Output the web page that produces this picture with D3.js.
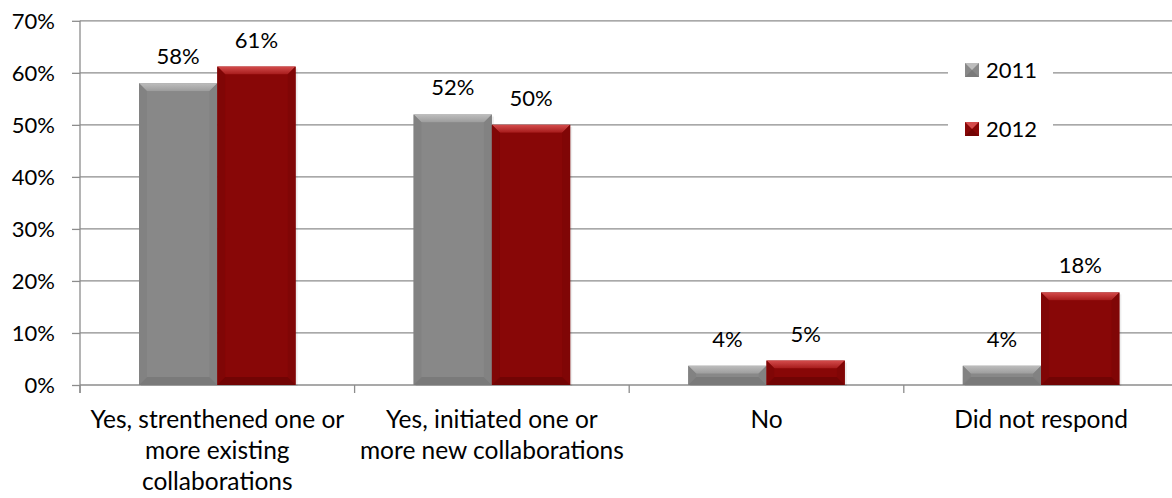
<!DOCTYPE html>
<html><head><meta charset="utf-8">
<script src="https://cdn.jsdelivr.net/npm/d3@7"></script>
<style>html,body{margin:0;padding:0;background:#fff;}svg{display:block;font-family:Lato,"Open Sans",sans-serif;}</style>
</head><body><svg id="c" width="1172" height="498"></svg>
<script>
const categories = [
  ["Yes, strenthened one or","more existing","collaborations"],
  ["Yes, initiated one or","more new collaborations"],
  ["No"],
  ["Did not respond"]
];
const seriesNames = ["2011","2012"];
const values2011 = [58, 52, 3.7, 3.7];
const values2012 = [61.2, 50, 4.7, 17.8];
const labels2011 = ["58%","52%","4%","4%"];
const labels2012 = ["61%","50%","5%","18%"];
const yTicks = [0,10,20,30,40,50,60,70];

(function(){
const colors = {"2011":{base:"#888888",light:"#bdbdbd",mid:"#9c9c9c",dark:"#7a7a7a",side:"#828282"},
                "2012":{base:"#880707",light:"#d44c4c",mid:"#a51a1a",dark:"#720404",side:"#800606"}};

const svg = d3.select("#c");
const pL = 80, pR = 1178.4, pT = 20.8, pB = 385;
const x = d3.scaleBand().domain(d3.range(categories.length)).range([pL,pR]).padding(0);
const xs = d3.scaleBand().domain(seriesNames).range([0,x.bandwidth()]).paddingInner(0).paddingOuter(0.754);
const y = d3.scaleLinear().domain([0,70]).range([pB, pT]);

const defs = svg.append("defs");
seriesNames.forEach(s=>{
  const c = colors[s];
  const g = defs.append("linearGradient").attr("id","top"+s).attr("x1",0).attr("y1",0).attr("x2",0).attr("y2",1);
  g.append("stop").attr("offset","0%").attr("stop-color",c.light);
  g.append("stop").attr("offset","100%").attr("stop-color",c.mid);
});

svg.append("g").selectAll("line").data(yTicks.filter(t=>t>0)).join("line")
  .attr("x1",pL).attr("x2",1172).attr("y1",d=>y(d)).attr("y2",d=>y(d))
  .attr("stroke","#8c8c8c").attr("stroke-width",1.3);

const yAxis = d3.axisLeft(y).tickValues(yTicks).tickSize(8).tickFormat(d=>d+"%");
const ya = svg.append("g").attr("transform",`translate(${pL},0)`).call(yAxis);
ya.select(".domain").attr("stroke","#8c8c8c").attr("stroke-width",1.3).attr("d",`M0,${pT}V${pB+8}`);
ya.selectAll(".tick line").attr("stroke","#8c8c8c").attr("stroke-width",1.3);
ya.selectAll(".tick text").attr("x",-25).attr("dy","0.36em").attr("font-size",22).attr("fill","#000").attr("font-family","Lato");

svg.append("line").attr("x1",pL).attr("x2",1172).attr("y1",pB).attr("y2",pB).attr("stroke","#8c8c8c").attr("stroke-width",1.3);
const bounds = d3.range(categories.length+1).map(i=> i<categories.length ? x(i) : pR);
svg.append("g").selectAll("line").data(bounds).join("line")
  .attr("x1",d=>d).attr("x2",d=>d).attr("y1",pB).attr("y2",pB+8)
  .attr("stroke","#8c8c8c").attr("stroke-width",1.3);

const cl = svg.append("g").selectAll("text").data(categories).join("text")
  .attr("x",(d,i)=>x(i)+x.bandwidth()/2).attr("y",428).attr("text-anchor","middle")
  .attr("font-size",24.5).attr("fill","#000");
cl.selectAll("tspan").data(d=>d).join("tspan")
  .attr("x",function(){return this.parentNode.getAttribute("x");})
  .attr("dy",(d,i)=>i===0?0:31).text(d=>d);

const rows = [];
categories.forEach((c,i)=>{
  rows.push({cat:i,s:"2011",v:values2011[i],lab:labels2011[i]});
  rows.push({cat:i,s:"2012",v:values2012[i],lab:labels2012[i]});
});
const bars = svg.append("g").selectAll("g").data(rows).join("g");
bars.each(function(d){
  const g = d3.select(this);
  const c = colors[d.s];
  const x0 = x(d.cat)+xs(d.s), w = xs.bandwidth(), x1 = x0+w;
  const y0 = y(d.v), y1 = y(0), h = y1-y0;
  const b = Math.min(8, h/2, w/2);
  g.append("rect").attr("x",x0+2).attr("y",y0+2).attr("width",w).attr("height",h-1).attr("fill","#000").attr("opacity",0.07);
  g.append("rect").attr("x",x0).attr("y",y0).attr("width",w).attr("height",h).attr("fill",c.base);
  const poly = (pts,fill)=>g.append("polygon").attr("points",pts.map(p=>p.join(",")).join(" ")).attr("fill",fill);
  poly([[x0,y0],[x1,y0],[x1-b,y0+b],[x0+b,y0+b]],`url(#top${d.s})`);
  poly([[x0,y0],[x0+b,y0+b],[x0+b,y1-b],[x0,y1]],c.side);
  poly([[x1,y0],[x1-b,y0+b],[x1-b,y1-b],[x1,y1]],c.side);
  poly([[x0,y1],[x0+b,y1-b],[x1-b,y1-b],[x1,y1]],c.dark);
  g.append("rect").attr("x",x0+b).attr("y",y0+b).attr("width",Math.max(0,w-2*b)).attr("height",Math.max(0,h-2*b)).attr("fill",c.base);
  g.append("text").attr("x",x0+w/2).attr("y",y0-19).attr("text-anchor","middle")
    .attr("font-size",22).attr("fill","#000").text(d.lab);
});

const lg = svg.append("g");
lg.append("rect").attr("x",948).attr("y",45).attr("width",105).attr("height",105).attr("fill","#fff");
seriesNames.forEach((s,i)=>{
  const cy = 70 + i*59;
  const mx = 965, ms = 14, my = cy-7;
  const c = colors[s];
  lg.append("rect").attr("x",mx).attr("y",my).attr("width",ms).attr("height",ms).attr("fill",c.base);
  const p = (pts,fill)=>lg.append("polygon").attr("points",pts.map(q=>q.join(",")).join(" ")).attr("fill",fill);
  p([[mx,my],[mx+ms,my],[mx+ms/2,my+ms/2]],c.light);
  p([[mx,my+ms],[mx+ms,my+ms],[mx+ms/2,my+ms/2]],c.dark);
  lg.append("text").attr("x",986).attr("y",cy+8).attr("font-size",22).attr("fill","#000").text(s);
});
})();
</script></body></html>
